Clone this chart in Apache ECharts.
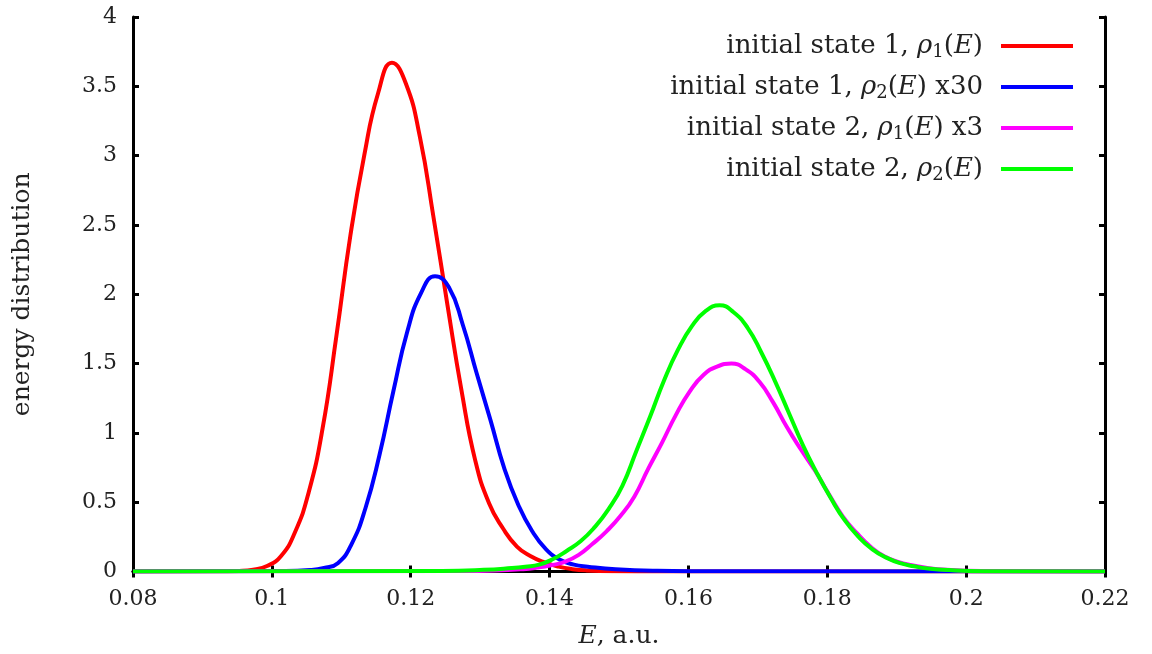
<!DOCTYPE html>
<html>
<head>
<meta charset="utf-8">
<script src="https://cdn.jsdelivr.net/npm/echarts@6/dist/echarts.min.js"></script>
<style>
  html, body { margin: 0; padding: 0; background: #fff; }
  #chart { width: 1152px; height: 654px; }
</style>
</head>
<body>
<div id="chart"></div>
<script>
// Energy distributions rho(E) for two initial states
const seriesNames = [
  'initial state 1, ρ1(E)',
  'initial state 1, ρ2(E) x30',
  'initial state 2, ρ1(E) x3',
  'initial state 2, ρ2(E)'
];
const seriesColors = ['#ff0000', '#0000ff', '#ff00ff', '#00ff00'];

const xTicks = [0.08, 0.1, 0.12, 0.14, 0.16, 0.18, 0.2, 0.22];
const yTicks = [0, 0.5, 1, 1.5, 2, 2.5, 3, 3.5, 4];

// state 1, rho_1(E)
const s1r1E = [0.08, 0.0913, 0.0953, 0.0973, 0.0993, 0.1013, 0.1033, 0.1053, 0.1073, 0.1093, 0.1113, 0.1133, 0.1153, 0.1173, 0.1193, 0.1213, 0.1233, 0.1253, 0.1273, 0.1293, 0.1313, 0.1333, 0.1353, 0.1373, 0.1393, 0.1413, 0.1433, 0.1453, 0.1493, 0.156, 0.22];
const s1r1V = [0, 0.001, 0.004, 0.012, 0.04, 0.11, 0.28, 0.57, 1.03, 1.70, 2.42, 3.00, 3.45, 3.67, 3.52, 3.14, 2.55, 1.92, 1.31, 0.80, 0.49, 0.31, 0.18, 0.11, 0.065, 0.035, 0.017, 0.008, 0.002, 0, 0];

// state 1, rho_2(E) x30
const s1r2E = [0.08, 0.1015, 0.1055, 0.1075, 0.1095, 0.1115, 0.1135, 0.1155, 0.1175, 0.1195, 0.1215, 0.1235, 0.1255, 0.1275, 0.1295, 0.1315, 0.1335, 0.1355, 0.1375, 0.1395, 0.1415, 0.1435, 0.1455, 0.1495, 0.1555, 0.165, 0.22];
const s1r2V = [0, 0.003, 0.01, 0.025, 0.06, 0.20, 0.46, 0.84, 1.30, 1.73, 2.01, 2.13, 2.05, 1.78, 1.43, 1.09, 0.74, 0.48, 0.29, 0.16, 0.085, 0.05, 0.035, 0.016, 0.005, 0.001, 0];

// state 2, rho_1(E) x3
const s2r1E = [0.08, 0.1262, 0.1322, 0.1362, 0.1382, 0.1402, 0.1422, 0.1442, 0.1462, 0.1482, 0.1502, 0.1522, 0.1542, 0.1562, 0.1582, 0.1602, 0.1622, 0.1642, 0.1662, 0.1682, 0.1702, 0.1722, 0.1742, 0.1762, 0.1782, 0.1802, 0.1822, 0.1842, 0.1862, 0.1882, 0.1902, 0.1922, 0.1942, 0.1972, 0.2022, 0.22];
const s2r1V = [0, 0.003, 0.007, 0.017, 0.028, 0.045, 0.07, 0.12, 0.20, 0.29, 0.40, 0.54, 0.74, 0.93, 1.13, 1.30, 1.42, 1.48, 1.50, 1.46, 1.37, 1.22, 1.04, 0.88, 0.73, 0.56, 0.40, 0.28, 0.18, 0.11, 0.07, 0.045, 0.027, 0.012, 0.003, 0];

// state 2, rho_2(E)
const s2r2E = [0.08, 0.1245, 0.1305, 0.1345, 0.1365, 0.1385, 0.1405, 0.1425, 0.1445, 0.1465, 0.1485, 0.1505, 0.1525, 0.1545, 0.1565, 0.1585, 0.1605, 0.1625, 0.1645, 0.1665, 0.1685, 0.1705, 0.1725, 0.1745, 0.1765, 0.1785, 0.1805, 0.1825, 0.1845, 0.1865, 0.1885, 0.1905, 0.1925, 0.1945, 0.1975, 0.2025, 0.22];
const s2r2V = [0, 0.004, 0.012, 0.025, 0.035, 0.05, 0.09, 0.15, 0.22, 0.32, 0.45, 0.62, 0.87, 1.12, 1.38, 1.60, 1.77, 1.88, 1.92, 1.87, 1.76, 1.58, 1.37, 1.14, 0.91, 0.71, 0.53, 0.37, 0.25, 0.16, 0.10, 0.06, 0.038, 0.022, 0.01, 0.002, 0];

const FONT = 'DejaVu Serif';
const TXT = '#222';
const FS = 22;      // tick labels
const FT = 25;      // axis titles
const FL = 26;      // legend

const pairs = (xs, ys) => xs.map((x, i) => [x, ys[i]]);
const curves = [pairs(s1r1E, s1r1V), pairs(s1r2E, s1r2V), pairs(s2r1E, s2r1V), pairs(s2r2E, s2r2V)];

// rich-text legend labels with italic symbols and subscripts
const legendRich = {
  '0': '{t|initial state 1, }{i|ρ}{s|1}{t|(}{i|E}{t|)}',
  '1': '{t|initial state 1, }{i|ρ}{s|2}{t|(}{i|E}{t|) x30}',
  '2': '{t|initial state 2, }{i|ρ}{s|1}{t|(}{i|E}{t|) x3}',
  '3': '{t|initial state 2, }{i|ρ}{s|2}{t|(}{i|E}{t|)}'
};

const richFor = (fs, sub) => ({
  t: { fontFamily: FONT, fontSize: fs, color: TXT, lineHeight: 30 },
  i: { fontFamily: FONT, fontSize: fs, fontStyle: 'italic', color: TXT, lineHeight: 30 },
  s: { fontFamily: FONT, fontSize: sub, color: TXT, verticalAlign: 'bottom', lineHeight: 30 }
});

const tickLabel = { fontFamily: FONT, fontSize: FS, color: TXT };

function mirrorAxis(extra) {
  return Object.assign({
    type: 'value',
    axisLine: { show: true, lineStyle: { color: '#000', width: 3 } },
    axisTick: { show: true, inside: true, length: 6, lineStyle: { color: '#000', width: 3 } },
    axisLabel: { show: false },
    splitLine: { show: false }
  }, extra);
}

const chart = echarts.init(document.getElementById('chart'), null, { renderer: 'canvas' });
chart.setOption({
  backgroundColor: '#fff',
  animation: false,
  grid: { left: 133, right: 47, top: 17, bottom: 82, containLabel: false },
  xAxis: [
    {
      type: 'value', min: xTicks[0], max: xTicks[xTicks.length - 1], interval: 0.02,
      position: 'bottom',
      name: '{i|E}{t|, a.u.}', nameLocation: 'middle', nameGap: 50,
      nameTextStyle: { rich: richFor(FT, 17) },
      axisLine: { show: true, onZero: false, lineStyle: { color: '#000', width: 3 } },
      axisTick: { show: true, inside: true, length: 6, lineStyle: { color: '#000', width: 3 } },
      axisLabel: { ...tickLabel, margin: 17, formatter: v => String(+v.toFixed(2)) },
      splitLine: { show: false }
    },
    mirrorAxis({ min: xTicks[0], max: xTicks[xTicks.length - 1], interval: 0.02, position: 'top' })
  ],
  yAxis: [
    {
      type: 'value', min: yTicks[0], max: yTicks[yTicks.length - 1], interval: 0.5,
      position: 'left',
      name: 'energy distribution', nameLocation: 'middle', nameGap: 98,
      nameTextStyle: { fontFamily: FONT, fontSize: FT, color: TXT },
      axisLine: { show: true, onZero: false, lineStyle: { color: '#000', width: 3 } },
      axisTick: { show: true, inside: true, length: 6, lineStyle: { color: '#000', width: 3 } },
      axisLabel: { ...tickLabel, margin: 16 },
      splitLine: { show: false }
    },
    mirrorAxis({ min: yTicks[0], max: yTicks[yTicks.length - 1], interval: 0.5, position: 'right' })
  ],
  legend: {
    orient: 'vertical',
    right: 79,
    top: 33,
    padding: 0,
    align: 'right',
    icon: 'rect',
    itemWidth: 72,
    itemHeight: 4,
    itemGap: 13,
    data: seriesNames,
    formatter: name => legendRich[String(seriesNames.indexOf(name))],
    textStyle: { rich: richFor(FL, 18), padding: [0, 13, 0, 0] }
  },
  series: seriesNames.map((name, k) => ({
    name,
    type: 'line',
    xAxisIndex: 0,
    yAxisIndex: 0,
    data: curves[k],
    smooth: 0.5,
    showSymbol: false,
    symbol: 'none',
    lineStyle: { color: seriesColors[k], width: 4 },
    itemStyle: { color: seriesColors[k] },
    z: 2 + k
  }))
});
</script>
</body>
</html>
